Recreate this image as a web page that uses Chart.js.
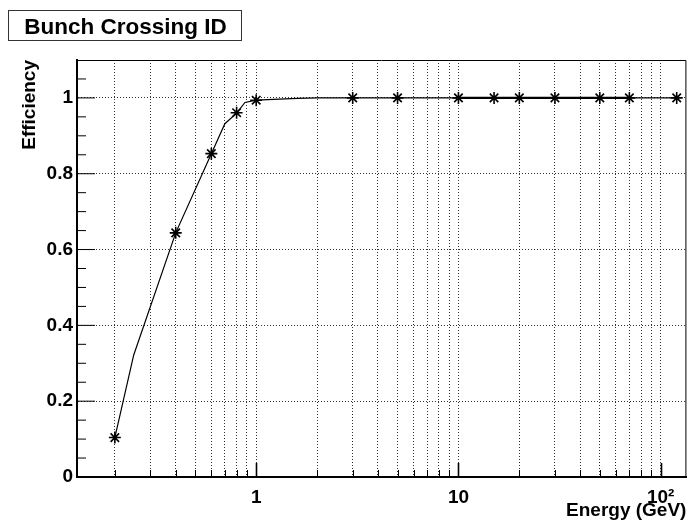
<!DOCTYPE html>
<html>
<head>
<meta charset="utf-8">
<title>Bunch Crossing ID</title>
<script src="https://cdn.jsdelivr.net/npm/chart.js@4.4.1/dist/chart.umd.min.js"></script>
<style>
  html, body { margin: 0; padding: 0; background: #fff; }
  #wrap { width: 694px; height: 522px; position: relative; }
</style>
</head>
<body>
<div id="wrap"><canvas id="effChart" width="694" height="522"></canvas></div>
<script>
// measured points
const energies = [0.2, 0.4, 0.6, 0.8, 1, 3, 5, 10, 15, 20, 30, 50, 70, 120];
const efficiency = [0.104, 0.644, 0.853, 0.961, 0.994, 1, 1, 1, 1, 1, 1, 1, 1, 1];

// fitted turn-on curve
const curveE = [0.2, 0.248, 0.4, 0.6, 0.7, 0.8, 0.88, 1, 1.3, 1.6, 2, 120];
const curveEff = [0.104, 0.322, 0.644, 0.853, 0.932, 0.96, 0.988, 0.994, 0.997, 0.999, 1, 1];

// plateau segment
const plateauE = [10, 70];
const plateauEff = [1, 1];

// axis ticks
const xTickValues = [0.2, 0.3, 0.4, 0.5, 0.6, 0.7, 0.8, 0.9,
  1, 2, 3, 4, 5, 6, 7, 8, 9,
  10, 20, 30, 40, 50, 60, 70, 80, 90, 100];
const xTickLabels = { 1: "1", 10: "10", 100: "10\u00b2" };
const yTickValues = [0, 0.2, 0.4, 0.6, 0.8, 1];
const yMinorValues = [0.05, 0.1, 0.15, 0.25, 0.3, 0.35, 0.45, 0.5, 0.55,
  0.65, 0.7, 0.75, 0.85, 0.9, 0.95, 1.05];

const FONT = "'Liberation Sans', Arial, Helvetica, sans-serif";
const gridStyle = { color: "rgba(0,0,0,0.8)", lineWidth: 1, drawTicks: false };

const toXY = (xs, ys) => xs.map((x, i) => ({ x: x, y: ys[i] }));

// ROOT-like frame: inner tick marks, top/right border and the title box
const rootFrame = {
  id: "rootFrame",
  afterDraw(chart) {
    const ctx = chart.ctx;
    const a = chart.chartArea;
    const xs = chart.scales.x, ys = chart.scales.y;
    ctx.save();
    ctx.setLineDash([]);
    ctx.strokeStyle = "#000";

    // x ticks, pointing up from the bottom axis
    xTickValues.forEach(v => {
      const px = Math.round(xs.getPixelForValue(v)) + 0.5;
      const major = v in xTickLabels;
      ctx.lineWidth = major ? 1.6 : 1;
      ctx.beginPath();
      ctx.moveTo(px, a.bottom);
      ctx.lineTo(px, a.bottom - (major ? 14 : 7));
      ctx.stroke();
    });

    // y ticks, pointing right from the left axis
    ctx.lineWidth = 1;
    yTickValues.forEach(v => {
      const py = ys.getPixelForValue(v);
      ctx.beginPath();
      ctx.moveTo(a.left, py);
      ctx.lineTo(a.left + 18, py);
      ctx.stroke();
    });
    yMinorValues.forEach(v => {
      const py = ys.getPixelForValue(v);
      ctx.beginPath();
      ctx.moveTo(a.left, py);
      ctx.lineTo(a.left + 9, py);
      ctx.stroke();
    });

    // top and right edges of the frame
    ctx.beginPath();
    ctx.moveTo(a.left, a.top + 0.5);
    ctx.lineTo(a.right - 0.5, a.top + 0.5);
    ctx.lineTo(a.right - 0.5, a.bottom);
    ctx.stroke();

    // title box
    ctx.fillStyle = "#fff";
    ctx.fillRect(8, 10, 234, 31);
    ctx.strokeStyle = "#333";
    ctx.strokeRect(8.5, 10.5, 233, 30);
    ctx.fillStyle = "#000";
    ctx.font = "bold 22.5px " + FONT;
    ctx.textAlign = "center";
    ctx.textBaseline = "alphabetic";
    ctx.fillText("Bunch Crossing ID", 125.5, 33.5);
    ctx.restore();
  }
};

new Chart(document.getElementById("effChart"), {
  type: "scatter",
  data: {
    datasets: [
      {
        label: "Efficiency",
        data: toXY(energies, efficiency),
        showLine: false,
        pointStyle: "star",
        pointRadius: 6,
        pointBorderWidth: 1.6,
        borderColor: "#000",
        backgroundColor: "#000",
        order: 0,
      },
      {
        label: "Fit",
        data: toXY(curveE, curveEff),
        showLine: true,
        pointRadius: 0,
        borderColor: "#000",
        borderWidth: 1.2,
        tension: 0,
        order: 1,
      },
      {
        label: "Plateau",
        data: toXY(plateauE, plateauEff),
        showLine: true,
        pointRadius: 0,
        borderColor: "#000",
        borderWidth: 2.2,
        order: 2,
      },
    ],
  },
  options: {
    responsive: false,
    animation: false,
    devicePixelRatio: 1,
    layout: { padding: { top: 60, right: 1, left: 0, bottom: 0 } },
    plugins: {
      legend: { display: false },
      tooltip: { enabled: false },
    },
    scales: {
      x: {
        type: "logarithmic",
        min: 0.13,
        max: 134,
        afterBuildTicks: s => { s.ticks = xTickValues.map(v => ({ value: v })); },
        afterFit: s => { s.height = 45; },
        grid: Object.assign({}, gridStyle),
        // dotted grid lines, solid axis line
        border: { color: "#000", width: 2, dash: [1, 2] },
        ticks: {
          autoSkip: false,
          maxRotation: 0,
          padding: 9,
          color: "#000",
          font: { family: FONT, size: 19, weight: "bold" },
          callback: v => xTickLabels[v] || "",
        },
        title: {
          display: true,
          text: "Energy (GeV)",
          align: "end",
          color: "#000",
          padding: 0,
          font: { family: FONT, size: 19, weight: "bold" },
        },
      },
      y: {
        type: "linear",
        min: 0,
        max: 1.1,
        afterBuildTicks: s => { s.ticks = yTickValues.map(v => ({ value: v })); },
        afterFit: s => { s.width = 77; },
        grid: Object.assign({}, gridStyle),
        border: { color: "#000", width: 2, dash: [1, 2] },
        ticks: {
          padding: 4,
          color: "#000",
          font: { family: FONT, size: 19, weight: "bold" },
          callback: v => String(+v.toFixed(1)),
        },
        title: {
          display: true,
          text: "Efficiency",
          align: "end",
          color: "#000",
          padding: { top: 18, bottom: 0 },
          font: { family: FONT, size: 19, weight: "bold" },
        },
      },
    },
  },
  plugins: [rootFrame],
});
</script>
</body>
</html>
